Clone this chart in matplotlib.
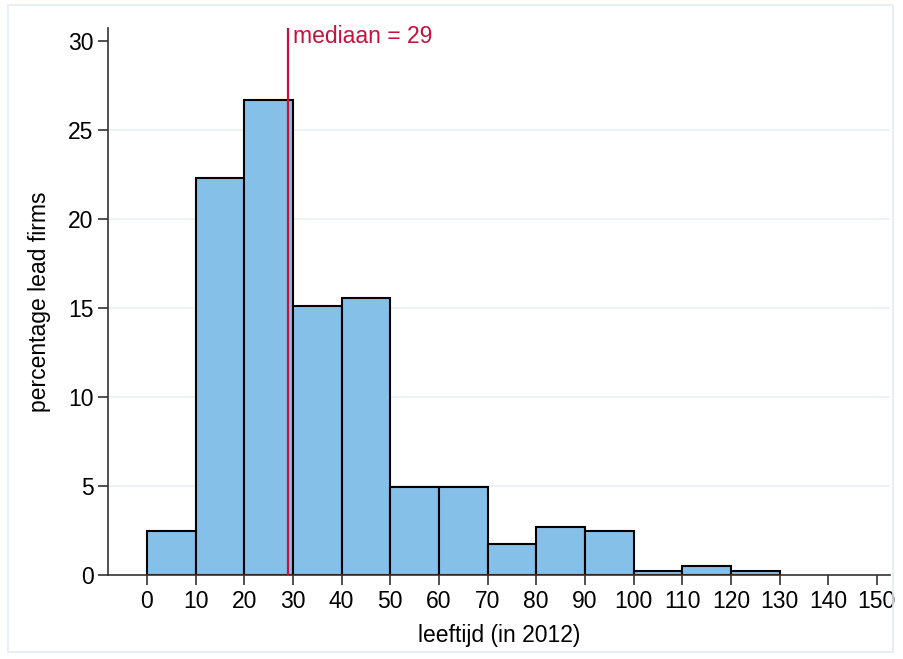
import matplotlib.pyplot as plt
from matplotlib.patches import Rectangle

plt.rcParams['font.family'] = ['Liberation Sans', 'DejaVu Sans']

# histogram bins (age in 2012) and percentage of lead firms per bin
bin_edges = [0, 10, 20, 30, 40, 50, 60, 70, 80, 90, 100, 110, 120, 130]
percentages = [2.48, 22.29, 26.73, 15.1, 15.59, 4.95, 4.95, 1.73, 2.72, 2.48, 0.25, 0.5, 0.25]
median_age = 29
x_ticks = list(range(0, 151, 10))
y_ticks = [0, 5, 10, 15, 20, 25, 30]

fig = plt.figure(figsize=(9.04, 6.59), dpi=100)
ax = fig.add_axes([0.1195, 0.1275, 0.865, 0.83])

# light frame around the whole graph region
fig.patches.append(Rectangle((0.009, 0.011), 0.979, 0.982, transform=fig.transFigure,
                             fill=False, edgecolor='#e4ecf0', linewidth=1.2))

# grid lines
for y in y_ticks[1:-1]:
  ax.axhline(y, color='#eaf1f3', linewidth=1.2, zorder=0)

widths = [bin_edges[i+1] - bin_edges[i] for i in range(len(percentages))]
ax.bar(bin_edges[:-1], percentages, width=widths, align='edge',
       color='#85c0e9', edgecolor='black', linewidth=1.5, zorder=2)

# median line and label
ax.axvline(median_age, color='#c8103c', linewidth=1.6, zorder=3)
ax.text(median_age + 1.0, 30.28, 'mediaan = ' + str(median_age), color='#c8103c',
        fontsize=16.5, va='center', ha='left')

ax.set_xlim(-8, 152.7)
ax.set_ylim(0, 30.75)
ax.set_xticks(x_ticks)
ax.set_yticks(y_ticks)
ax.tick_params(axis='both', labelsize=16.5, length=7, width=1.2, color='#333333', direction='out')
ax.set_xlabel('leeftijd (in 2012)', fontsize=16.5, labelpad=8)
ax.set_ylabel('percentage lead firms', fontsize=16.5, labelpad=12)

for side in ['top', 'right']:
  ax.spines[side].set_visible(False)
ax.spines['left'].set_color('#333333')
ax.spines['bottom'].set_color('#333333')
ax.spines['left'].set_linewidth(1.2)
ax.spines['bottom'].set_linewidth(1.2)

plt.savefig('out.png', dpi=100)
